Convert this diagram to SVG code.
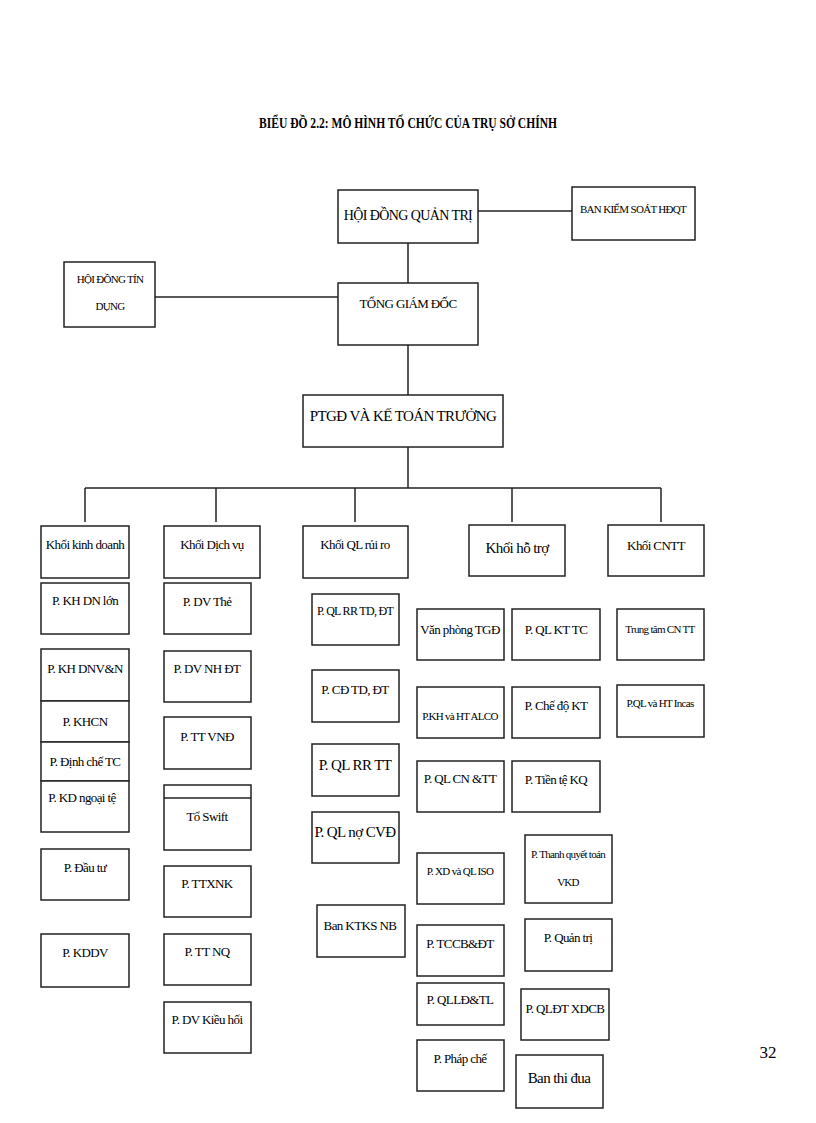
<svg xmlns="http://www.w3.org/2000/svg" width="816" height="1123" viewBox="0 0 816 1123" font-family="Liberation Serif, Times New Roman, serif">
<style>
rect{fill:#fff;stroke:#222;stroke-width:1.5}
text{font-family:'Liberation Serif','Times New Roman',serif;font-size:13px;fill:#000;text-anchor:middle;letter-spacing:-0.6px}
.s{font-size:11px;letter-spacing:-0.7px}
.l{font-size:15px}
line,path{stroke:#222;stroke-width:1.5;fill:none}
</style>
<rect x="0" y="0" width="816" height="1123" style="stroke:none"/>
<text x="408" y="128" textLength="298" lengthAdjust="spacingAndGlyphs" style="font-weight:bold;font-size:14px;letter-spacing:0">BIỂU ĐỒ 2.2: MÔ HÌNH TỔ CHỨC CỦA TRỤ SỞ CHÍNH</text>
<g id="connectors">
<line x1="478" y1="211" x2="572" y2="211"/>
<line x1="155" y1="297" x2="338" y2="297"/>
<line x1="408" y1="243" x2="408" y2="283"/>
<line x1="408" y1="345" x2="408" y2="395"/>
<line x1="408" y1="447" x2="408" y2="488"/>
<line x1="85" y1="488" x2="661" y2="488"/>
<line x1="85" y1="488" x2="85" y2="522"/>
<line x1="216" y1="488" x2="216" y2="522"/>
<line x1="355" y1="488" x2="355" y2="522"/>
<line x1="512" y1="488" x2="512" y2="522"/>
<line x1="661" y1="488" x2="661" y2="522"/>
</g>
<g id="hdqt"><rect x="338" y="190" width="140" height="53"/><text x="408" y="220" style="font-size:14px">HỘI ĐỒNG QUẢN TRỊ</text></g>
<g id="bks"><rect x="572" y="187" width="123" height="53"/><text x="633" y="213" class="s">BAN KIỂM SOÁT HĐQT</text></g>
<g id="hdtd"><rect x="64" y="262" width="91" height="65"/><text x="110" y="283" class="s">HỘI ĐỒNG TÍN</text><text x="110" y="310" class="s">DỤNG</text></g>
<g id="tgd"><rect x="338" y="283" width="140" height="62"/><text x="408" y="308">TỔNG GIÁM ĐỐC</text></g>
<g id="ptgd"><rect x="303" y="395" width="200" height="52"/><text x="403" y="421" class="l">PTGĐ VÀ KẾ TOÁN TRƯỞNG</text></g>

<g id="k1"><rect x="41" y="526" width="88" height="52"/><text x="85" y="549">Khối kinh  doanh</text></g>
<g id="c1a"><rect x="41" y="583" width="88" height="51"/><text x="85" y="605">P. KH DN lớn</text></g>
<g id="c1b"><rect x="41" y="649" width="88" height="52"/><text x="85" y="673">P. KH DNV&amp;N</text></g>
<g id="c1c"><rect x="41" y="701" width="88" height="41"/><text x="85" y="726">P. KHCN</text></g>
<g id="c1d"><rect x="41" y="742" width="88" height="39"/><text x="85" y="766">P. Định chế TC</text></g>
<g id="c1e"><rect x="41" y="781" width="88" height="51"/><text x="82" y="802">P. KD ngoại tệ</text></g>
<g id="c1f"><rect x="41" y="849" width="88" height="51"/><text x="85" y="872">P. Đầu tư</text></g>
<g id="c1g"><rect x="41" y="934" width="88" height="53"/><text x="85" y="957">P. KDDV</text></g>

<g id="k2"><rect x="164" y="526" width="96" height="52"/><text x="212" y="549">Khối Dịch vụ</text></g>
<g id="c2a"><rect x="164" y="583" width="87" height="51"/><text x="207" y="606">P. DV Thẻ</text></g>
<g id="c2b"><rect x="164" y="651" width="87" height="51"/><text x="207" y="673">P. DV NH ĐT</text></g>
<g id="c2c"><rect x="164" y="717" width="87" height="52"/><text x="207" y="741">P. TT VNĐ</text></g>
<g id="c2d"><rect x="164" y="785" width="87" height="65"/><line x1="164" y1="798" x2="251" y2="798"/><text x="207" y="821">Tổ Swift</text></g>
<g id="c2e"><rect x="164" y="866" width="87" height="51"/><text x="207" y="888">P. TTXNK</text></g>
<g id="c2f"><rect x="164" y="934" width="87" height="51"/><text x="207" y="956">P. TT NQ</text></g>
<g id="c2g"><rect x="164" y="1002" width="87" height="51"/><text x="207" y="1024">P. DV Kiều hối</text></g>

<g id="k3"><rect x="303" y="526" width="105" height="52"/><text x="355" y="549">Khối QL rủi ro</text></g>
<g id="c3a"><rect x="312" y="594" width="87" height="51"/><text x="355" y="615" class="s" style="font-size:12px">P. QL  RR TD, ĐT</text></g>
<g id="c3b"><rect x="312" y="670" width="87" height="52"/><text x="355" y="694">P. CĐ TD, ĐT</text></g>
<g id="c3c"><rect x="312" y="744" width="87" height="52"/><text x="355" y="770" class="l">P. QL RR TT</text></g>
<g id="c3d"><rect x="312" y="812" width="87" height="51"/><text x="355" y="837" class="l">P. QL nợ CVĐ</text></g>
<g id="c3e"><rect x="317" y="905" width="88" height="52"/><text x="360" y="930">Ban KTKS NB</text></g>

<g id="k4"><rect x="469" y="525" width="96" height="51"/><text x="517" y="553" class="l">Khối hỗ trợ</text></g>
<g id="c4a"><rect x="417" y="609" width="87" height="51"/><text x="460" y="634">Văn phòng TGĐ</text></g>
<g id="c4b"><rect x="417" y="687" width="87" height="51"/><text x="460" y="720" class="s">P.KH và HT ALCO</text></g>
<g id="c4c"><rect x="417" y="761" width="87" height="51"/><text x="460" y="783">P. QL CN &amp;TT</text></g>
<g id="c4d"><rect x="417" y="853" width="87" height="51"/><text x="460" y="875" class="s">P. XD  và QL ISO</text></g>
<g id="c4e"><rect x="417" y="925" width="87" height="51"/><text x="460" y="948">P. TCCB&amp;ĐT</text></g>
<g id="c4f"><rect x="417" y="983" width="87" height="42"/><text x="460" y="1004">P. QLLĐ&amp;TL</text></g>
<g id="c4g"><rect x="417" y="1040" width="87" height="51"/><text x="460" y="1063">P. Pháp chế</text></g>
<g id="c5a"><rect x="512" y="609" width="88" height="51"/><text x="556" y="634">P. QL KT TC</text></g>
<g id="c5b"><rect x="512" y="687" width="88" height="51"/><text x="556" y="710">P. Chế độ KT</text></g>
<g id="c5c"><rect x="512" y="761" width="88" height="51"/><text x="556" y="784">P. Tiền tệ KQ</text></g>
<g id="c5d"><rect x="525" y="835" width="87" height="68"/><text x="568" y="858" class="s">P. Thanh quyết toán</text><text x="568" y="886" class="s">VKD</text></g>
<g id="c5e"><rect x="525" y="919" width="87" height="52"/><text x="568" y="942">P. Quản trị</text></g>
<g id="c5f"><rect x="521" y="989" width="88" height="51"/><text x="565" y="1013">P. QLĐT XDCB</text></g>
<g id="c5g"><rect x="516" y="1055" width="87" height="53"/><text x="559" y="1083" class="l">Ban thi đua</text></g>

<g id="k5"><rect x="608" y="525" width="96" height="51"/><text x="656" y="550">Khối CNTT</text></g>
<g id="c6a"><rect x="617" y="609" width="87" height="51"/><text x="660" y="633" class="s">Trung tâm CN  TT</text></g>
<g id="c6b"><rect x="617" y="685" width="87" height="52"/><text x="660" y="707" class="s">P.QL và HT Incas</text></g>
<text x="768" y="1058" style="font-size:17px;letter-spacing:0">32</text>
</svg>
